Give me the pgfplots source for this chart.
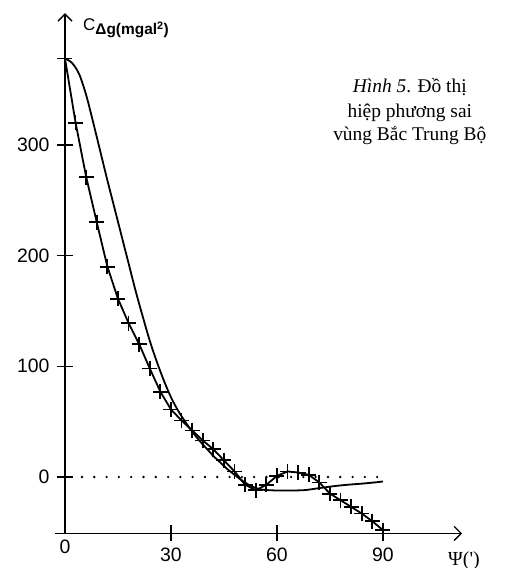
\documentclass[border=0pt]{standalone}
\usepackage{pgfplots}
\pgfplotsset{compat=1.18}
\usepackage{fontspec}
\setmainfont{Liberation Sans}
\newfontfamily\serif{Liberation Serif}
\usetikzlibrary{calc,arrows.meta}

% empirical covariance (crosses) and fitted model (smooth line)
\pgfplotstableread{
psi C
0 378
3 320
6 271
9 230
12 190
15 161
18 139
21 120
24 98
27 77
30 61
33 51
36 42
39 33
42 25
45 15
48 5
51 -7
54 -12
57 -7
60 1
63 5
66 4
69 2
72 -5
75 -15
78 -21
81 -27
84 -33
87 -40
90 -48
}\empirical
\pgfplotstableread{
psi C
0 378
2 374
4 364
6 345
8 320
10 294
12 268
14 243
16 218
18 193
20 168
22 145
24 123
26 104
28 87
30 72
32 60
34 50
36 41
38 33
40 26
42 19
44 13
46 7
48 2
50 -3
52 -7
54 -10
56 -11.5
60 -12.2
64 -12.2
68 -11.8
72 -10
76 -8.3
80 -7
84 -6
88 -4.8
90 -4
}\model

\begin{document}
\begin{tikzpicture}
\begin{axis}[
  x=3.533bp, y=1.107bp,
  xmin=0, xmax=112.4, ymin=-51, ymax=419,
  axis lines=left,
  axis line style={line width=1.5bp, -{Straight Barb[length=7bp,width=14bp,line width=1.3bp]}},
  tick align=center, major tick length=16bp,
  tick style={line width=1.5bp, black},
  xtick={30,60,90}, ytick={0,100,200,300},
  extra x ticks={0}, extra x tick style={major tick length=0pt},
  /pgf/number format/assume math mode=true,
  ticklabel style={font=\fontsize{19.5}{19.5}\selectfont},
  yticklabel style={xshift=-4bp},
  xticklabel style={yshift=-3bp},
  clip=false,
]
\coordinate (O) at (axis cs:0,0);
% x axis continues a little to the left of the y axis
\draw[line width=1.5bp] (axis cs:-2.8,-51) -- (axis cs:0,-51);
% zero reference level
\addplot[black, line width=2.6bp, line cap=round, dash pattern=on 0bp off 12.3bp]
  coordinates {(4.8,0) (88.5,0)};
\addplot[black, line width=1.8bp, mark=+, mark size=7.5bp,
  mark options={line width=1.8bp}] table[x=psi,y=C] {\empirical};
\addplot[black, line width=1.8bp, smooth] table[x=psi,y=C] {\model};

\node[anchor=base west, inner sep=0pt] at (axis cs:5.1,403)
  {\fontsize{17}{17}\selectfont C\raisebox{-0.4ex}{\fontsize{15.5}{15.5}\selectfont\bfseries Δg(mgal\textsuperscript{2})}};
\node[anchor=base west, inner sep=0pt] at (axis cs:108.4,-79.5)
  {\serif\fontsize{20}{20}\selectfont Ψ(')};

\node[anchor=base, inner sep=0pt] at (axis cs:97.6,346.9)
  {\serif\fontsize{19.5}{20}\selectfont \textit{Hình 5}. Đồ thị};
\node[anchor=base, inner sep=0pt] at (axis cs:97.6,325.2)
  {\serif\fontsize{19.5}{20}\selectfont hiệp phương sai};
\node[anchor=base, inner sep=0pt] at (axis cs:97.6,304.4)
  {\serif\fontsize{19.5}{20}\selectfont vùng Bắc Trung Bộ};
\end{axis}
\pgfresetboundingbox
\useasboundingbox ($(O)+(-65bp,-91bp)$) rectangle ($(O)+(446bp,477bp)$);
\end{tikzpicture}
\end{document}
